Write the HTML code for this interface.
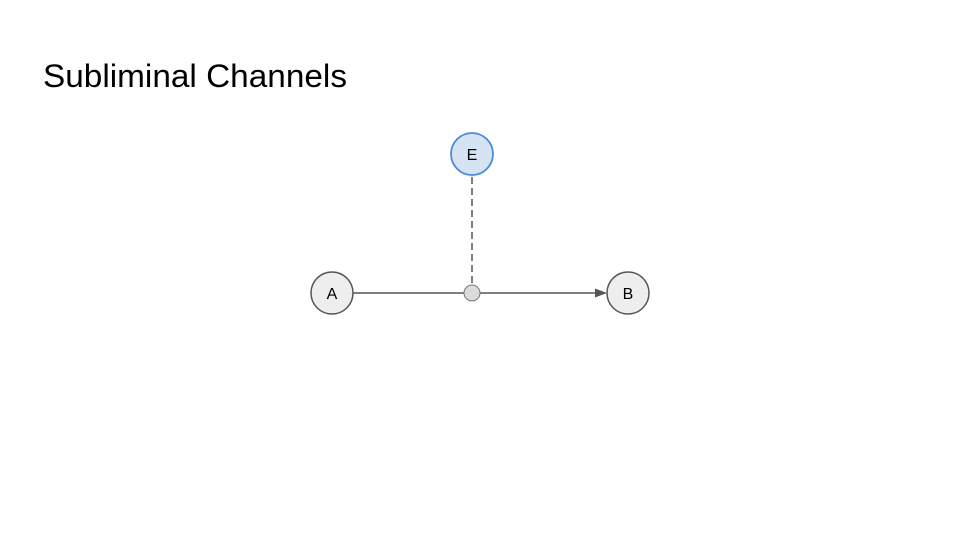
<!DOCTYPE html>
<html><head><meta charset="utf-8"><style>
html,body{margin:0;padding:0;background:#fff;}
</style></head><body>
<svg width="960" height="540" xmlns="http://www.w3.org/2000/svg" style="display:block">
<rect width="960" height="540" fill="#fff"/>
<text x="43" y="87" font-family="Liberation Sans, sans-serif" font-size="32" fill="#000" textLength="304" lengthAdjust="spacingAndGlyphs">Subliminal Channels</text>
<line x1="472" y1="177" x2="472" y2="285" stroke="#555" stroke-width="1.5" stroke-dasharray="7,4"/>
<line x1="353" y1="293" x2="600" y2="293" stroke="#555" stroke-width="1.5"/>
<polygon points="607,293 595,288.5 595,297.5" fill="#555"/>
<circle cx="332" cy="293" r="21" fill="#eeeeee" stroke="#555" stroke-width="1.5"/>
<circle cx="628" cy="293" r="21" fill="#eeeeee" stroke="#555" stroke-width="1.5"/>
<circle cx="472" cy="154" r="21" fill="#d5e3f3" stroke="#4a8ad8" stroke-width="1.8"/>
<circle cx="472" cy="293" r="8" fill="#dcdcdc" stroke="#777" stroke-width="1"/>
<g font-family="Liberation Sans, sans-serif" font-size="16" fill="#000" text-anchor="middle">
<text x="332" y="299">A</text>
<text x="628" y="299">B</text>
<text x="472" y="160">E</text>
</g>
</svg>
</body></html>
